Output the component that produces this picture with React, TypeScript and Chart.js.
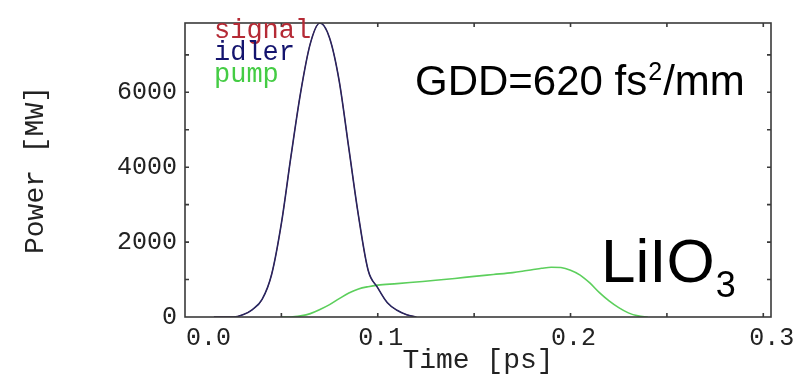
import React, { useEffect, useRef } from "react";
import { Chart, registerables } from "chart.js";

Chart.register(...registerables);

// ---- data ----
const idlerTime = [0.015, 0.02, 0.025, 0.03, 0.035, 0.04, 0.045, 0.05, 0.055, 0.06, 0.065, 0.07, 0.075, 0.08, 0.085, 0.09, 0.095, 0.1, 0.105, 0.11, 0.115, 0.12];
const idlerPower = [0, 0, 0, 60, 200, 470, 1150, 2500, 4300, 6000, 7300, 7850, 7450, 6300, 4500, 2700, 1250, 780, 380, 180, 60, 0];
const signalPower = [0, 0, 0, 60, 200, 470, 1150, 2500, 4300, 6000, 7300, 7850, 7450, 6300, 4500, 2700, 1250, 780, 380, 180, 60, 0];
const pumpTime = [0.05, 0.055, 0.06, 0.065, 0.07, 0.075, 0.08, 0.085, 0.09, 0.095, 0.1, 0.11, 0.12, 0.13, 0.14, 0.15, 0.16, 0.17, 0.175, 0.18, 0.185, 0.19, 0.195, 0.2, 0.205, 0.21, 0.215, 0.22, 0.225, 0.23, 0.235, 0.24];
const pumpPower = [0, 0, 30, 90, 200, 330, 490, 640, 750, 810, 850, 890, 935, 980, 1030, 1085, 1135, 1185, 1220, 1260, 1300, 1330, 1320, 1250, 1120, 910, 650, 430, 250, 110, 30, 0];
const seriesNames = ["signal", "idler", "pump"];
const seriesColors = ["#b52a35", "#14146e", "#44cc44"];
const lineColors = ["#b0222a", "#262660", "#5ccf5c"];
const xTickValues = [0, 0.05, 0.1, 0.15, 0.2, 0.25, 0.3];
const xTickLabels = ["0.0", "", "0.1", "", "0.2", "", "0.3"];
const yTickValues = [0, 1000, 2000, 3000, 4000, 5000, 6000, 7000];
const yTickLabels = ["0", "", "2000", "", "4000", "", "6000", ""];
const xTitle = "Time [ps]";
const yTitle = "Power [MW]";
const gddText = ["GDD=620 fs", "2", "/mm"];
const crystalText = ["LiIO", "3"];

const MONO = "'Liberation Mono', 'DejaVu Sans Mono', monospace";
const SANS = "'Liberation Sans', Arial, sans-serif";

const framePlugin = {
  id: "frame",
  afterDatasetsDraw(chart: any) {
    const { ctx, chartArea: a, scales } = chart;
    ctx.save();
    ctx.strokeStyle = "#3a3a3a";
    ctx.lineWidth = 1.6;
    ctx.strokeRect(a.left, a.top, a.right - a.left, a.bottom - a.top);
    const L = 4;
    ctx.beginPath();
    scales.x.ticks.forEach((t: any) => {
      const px = scales.x.getPixelForValue(t.value);
      if (px <= a.left + 1 || px >= a.right - 1) return;
      ctx.moveTo(px, a.bottom);
      ctx.lineTo(px, a.bottom - L);
      ctx.moveTo(px, a.top);
      ctx.lineTo(px, a.top + L);
    });
    scales.y.ticks.forEach((t: any) => {
      const py = scales.y.getPixelForValue(t.value);
      if (py >= a.bottom - 1 || py <= a.top + 1) return;
      ctx.moveTo(a.left, py);
      ctx.lineTo(a.left + L, py);
      ctx.moveTo(a.right, py);
      ctx.lineTo(a.right - L, py);
    });
    ctx.stroke();
    // x tick labels (end labels are shifted as in the reference)
    ctx.fillStyle = "#222";
    ctx.font = `25px ${MONO}`;
    ctx.textBaseline = "middle";
    const last = xTickValues.length - 1;
    xTickValues.forEach((v, i) => {
      const lab = xTickLabels[i];
      if (!lab) return;
      const px = scales.x.getPixelForValue(v);
      if (i === 0) {
        ctx.textAlign = "left";
        ctx.fillText(lab, px + 1, a.bottom + 21);
      } else if (i === last) {
        ctx.textAlign = "right";
        ctx.fillText(lab, px + 31, a.bottom + 21);
      } else {
        ctx.textAlign = "center";
        ctx.fillText(lab, px + 3, a.bottom + 21);
      }
    });
    ctx.restore();
  },
};

const textPlugin = {
  id: "texts",
  afterDraw(chart: any) {
    const { ctx } = chart;
    ctx.save();
    // legend as coloured text
    ctx.font = `27px ${MONO}`;
    ctx.textBaseline = "alphabetic";
    ctx.textAlign = "left";
    chart.data.datasets.forEach((ds: any, i: number) => {
      ctx.fillStyle = seriesColors[i];
      ctx.fillText(ds.label, 214, 38 + i * 22);
    });
    // GDD annotation
    ctx.fillStyle = "#000";
    ctx.font = `42px ${SANS}`;
    let x = 415;
    ctx.fillText(gddText[0], x, 95);
    x += ctx.measureText(gddText[0]).width;
    ctx.font = `25px ${SANS}`;
    ctx.fillText(gddText[1], x + 1, 80);
    x += ctx.measureText(gddText[1]).width + 2;
    ctx.font = `42px ${SANS}`;
    ctx.fillText(gddText[2], x, 95);
    // crystal label
    ctx.font = `62px ${SANS}`;
    ctx.fillText(crystalText[0], 601, 282);
    const w = ctx.measureText(crystalText[0]).width;
    ctx.font = `36px ${SANS}`;
    ctx.fillText(crystalText[1], 601 + w + 1, 297);
    ctx.restore();
  },
};

export default function App() {
  const ref = useRef<HTMLCanvasElement | null>(null);
  useEffect(() => {
    if (!ref.current) return;
    const chart = new Chart(ref.current, {
      type: "line",
      data: {
        datasets: [
          {
            label: seriesNames[0],
            data: idlerTime.map((t, i) => ({ x: t, y: signalPower[i] })),
            borderColor: lineColors[0],
            borderWidth: 1.0,
            pointRadius: 0,
            cubicInterpolationMode: "monotone",
            order: 3,
          },
          {
            label: seriesNames[1],
            data: idlerTime.map((t, i) => ({ x: t, y: idlerPower[i] })),
            borderColor: lineColors[1],
            borderWidth: 1.6,
            pointRadius: 0,
            cubicInterpolationMode: "monotone",
            order: 1,
          },
          {
            label: seriesNames[2],
            data: pumpTime.map((t, i) => ({ x: t, y: pumpPower[i] })),
            borderColor: lineColors[2],
            borderWidth: 1.6,
            pointRadius: 0,
            cubicInterpolationMode: "monotone",
            order: 2,
          },
        ],
      },
      options: {
        animation: false,
        responsive: false,
        maintainAspectRatio: false,
        layout: { padding: { left: 0, top: 10, right: 22, bottom: 0 } },
        plugins: { legend: { display: false }, tooltip: { enabled: false } },
        scales: {
          x: {
            type: "linear",
            min: 0,
            max: 0.304,
            grid: { display: false, drawTicks: false },
            border: { display: false },
            afterBuildTicks: (s: any) => {
              s.ticks = xTickValues.map((v) => ({ value: v }));
            },
            ticks: { display: false },
            title: {
              display: true,
              text: xTitle,
              color: "#222",
              font: { family: MONO, size: 28 },
              padding: { top: 0, bottom: 3 },
            },
            afterFit: (s: any) => {
              s.height = 63;
            },
          },
          y: {
            type: "linear",
            min: 0,
            max: 7850,
            grid: { display: false, drawTicks: false },
            border: { display: false },
            afterBuildTicks: (s: any) => {
              s.ticks = yTickValues.map((v) => ({ value: v }));
            },
            ticks: {
              autoSkip: false,
              padding: 8,
              color: "#222",
              font: { family: MONO, size: 25 },
              callback: (_v: any, i: number) => yTickLabels[i] ?? "",
            },
            title: {
              display: true,
              text: yTitle,
              color: "#222",
              font: { family: MONO, size: 28 },
              padding: { top: 19, bottom: 0 },
            },
            afterFit: (s: any) => {
              s.width = 185;
            },
          },
        },
      },
      plugins: [framePlugin, textPlugin],
    } as any);
    return () => chart.destroy();
  }, []);
  return (
    <div style={{ position: "fixed", left: 0, top: 0, width: 793, height: 380, background: "#fff" }}>
      <canvas ref={ref} width={793} height={380} style={{ display: "block", width: 793, height: 380 }} />
    </div>
  );
}
